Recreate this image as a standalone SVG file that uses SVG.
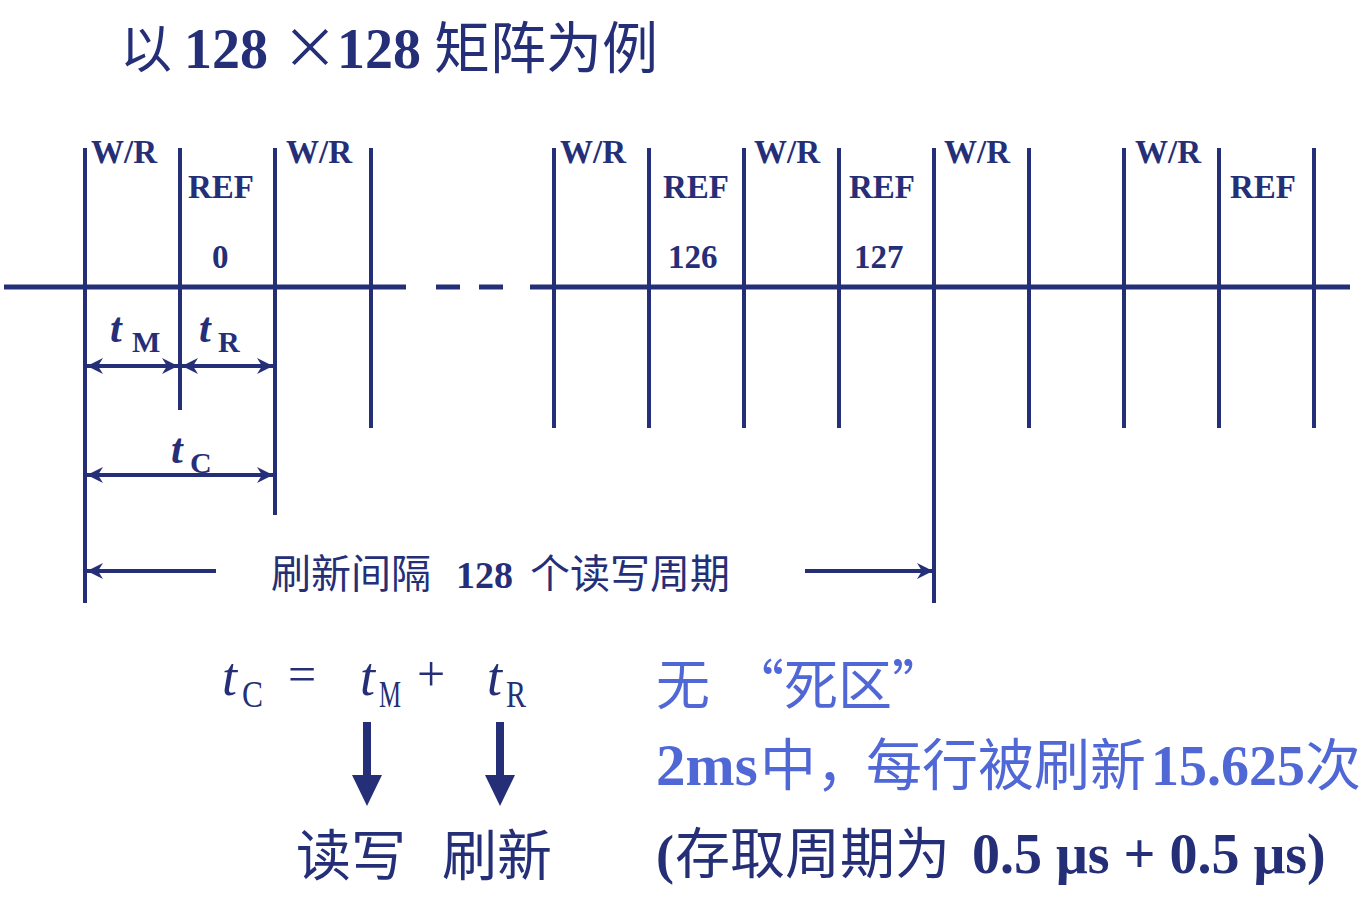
<svg xmlns="http://www.w3.org/2000/svg" width="1370" height="900" viewBox="0 0 1370 900">
<defs>
<style>
.ln{stroke:#252f78;stroke-width:4;fill:none}
.ax{stroke:#252f78;stroke-width:5;fill:none}
.dm{stroke:#252f78;stroke-width:4;fill:none;marker-end:url(#ah)}
.dm2{stroke:#252f78;stroke-width:4;fill:none;marker-start:url(#ahs);marker-end:url(#ah)}
.lb{font-family:"Liberation Serif",serif;font-weight:bold;font-size:33px;fill:#252f78}
.cj{font-family:"Noto Sans CJK SC",sans-serif;fill:#252f78}
.bi{font-family:"Liberation Serif",serif;font-weight:bold;font-style:italic;fill:#252f78}
.bs{font-family:"Liberation Serif",serif;font-weight:bold;fill:#252f78}
.it{font-family:"Liberation Serif",serif;font-style:italic;fill:#252f78}
.rg{font-family:"Liberation Serif",serif;fill:#252f78}
.blue{fill:#5067d6}
</style>
<marker id="ah" markerUnits="userSpaceOnUse" markerWidth="18" markerHeight="18" refX="16" refY="9" orient="auto">
<path d="M0,1 L16,9 L0,17 L5,9 z" fill="#252f78"/>
</marker>
<marker id="ahs" markerUnits="userSpaceOnUse" markerWidth="18" markerHeight="18" refX="2" refY="9" orient="auto">
<path d="M18,1 L2,9 L18,17 L13,9 z" fill="#252f78"/>
</marker>
</defs>
<rect width="1370" height="900" fill="#ffffff"/>

<g id="title">
<text y="68" font-size="56"><tspan x="120" class="cj" font-size="52">以</tspan><tspan x="184" class="bs">128</tspan><tspan x="282" class="cj" font-size="56">×</tspan><tspan x="337" class="bs">128</tspan><tspan x="434" class="cj" font-size="56">矩阵为例</tspan></text>
</g>

<g id="timeline">
<path class="ax" d="M4,287 H406 M436,287 H460 M479,287 H503 M530,287 H1350"/>
<path class="ln" d="M85,148 V603 M180,148 V410 M275,148 V515 M371,148 V428 M554,148 V428 M649,148 V428 M744,148 V428 M839,148 V428 M934,148 V603 M1029,148 V428 M1124,148 V428 M1219,148 V428 M1314,148 V428"/>
</g>

<g id="labels">
<text class="lb" x="91" y="163">W/R</text>
<text class="lb" x="286" y="163">W/R</text>
<text class="lb" x="560" y="163">W/R</text>
<text class="lb" x="754" y="163">W/R</text>
<text class="lb" x="944" y="163">W/R</text>
<text class="lb" x="1135" y="163">W/R</text>
<text class="lb" x="188" y="198">REF</text>
<text class="lb" x="663" y="198">REF</text>
<text class="lb" x="849" y="198">REF</text>
<text class="lb" x="1230" y="198">REF</text>
<text class="lb" x="212" y="268">0</text>
<text class="lb" x="668" y="268">126</text>
<text class="lb" x="854" y="268">127</text>
</g>

<g id="connectors">
<line class="dm2" x1="87" y1="366" x2="178" y2="366"/>
<line class="dm2" x1="182" y1="366" x2="273" y2="366"/>
<line class="dm2" x1="87" y1="475" x2="273" y2="475"/>
<line class="dm" x1="216" y1="571" x2="87" y2="571"/>
<line class="dm" x1="805" y1="571" x2="933" y2="571"/>
<path d="M363,722 H371 V775 H382 L367,806 L352,775 H363 z" fill="#252f78"/>
<path d="M496,722 H504 V775 H515 L500,806 L485,775 H496 z" fill="#252f78"/>
</g>

<g id="dims">
<text class="bi" x="110" y="342" font-size="42">t</text>
<text class="bs" x="132" y="352" font-size="30">M</text>
<text class="bi" x="199" y="342" font-size="42">t</text>
<text class="bs" x="218" y="352" font-size="30">R</text>
<text class="bi" x="171" y="463" font-size="42">t</text>
<text class="bs" x="190" y="473" font-size="30">C</text>
<text y="588" font-size="40"><tspan x="271" class="cj">刷新间隔</tspan><tspan x="456" class="bs" font-size="38">128</tspan><tspan x="530" class="cj">个读写周期</tspan></text>
</g>

<g id="formula">
<text class="it" x="222" y="695" font-size="54">t</text>
<text class="rg" x="242" y="707" font-size="38" textLength="21" lengthAdjust="spacingAndGlyphs">C</text>
<text class="rg" x="288" y="691" font-size="50">=</text>
<text class="it" x="360" y="695" font-size="54">t</text>
<text class="rg" x="379" y="707" font-size="38" textLength="22" lengthAdjust="spacingAndGlyphs">M</text>
<text class="rg" x="417" y="691" font-size="50">+</text>
<text class="it" x="487" y="695" font-size="54">t</text>
<text class="rg" x="506" y="707" font-size="38" textLength="20" lengthAdjust="spacingAndGlyphs">R</text>
<text class="cj" x="296" y="875" font-size="55">读写</text>
<text class="cj" x="442" y="875" font-size="55">刷新</text>
</g>

<g id="notes">
<text y="705" font-size="54"><tspan x="656" class="cj blue">无</tspan><tspan x="730" class="cj blue">“死区”</tspan></text>
<text y="785" font-size="56"><tspan x="656" class="bs blue" font-size="59">2ms</tspan><tspan x="760" class="cj blue">中，</tspan><tspan x="866" class="cj blue">每行被刷新</tspan><tspan x="1151" class="bs blue">15.625</tspan><tspan x="1305" class="cj blue">次</tspan></text>
<text y="873" font-size="54"><tspan x="656" class="bs">(</tspan><tspan x="675" class="cj" font-size="55">存取周期为</tspan><tspan x="972" class="bs" font-size="56">0.5 μs + 0.5 μs)</tspan></text>
</g>
</svg>
